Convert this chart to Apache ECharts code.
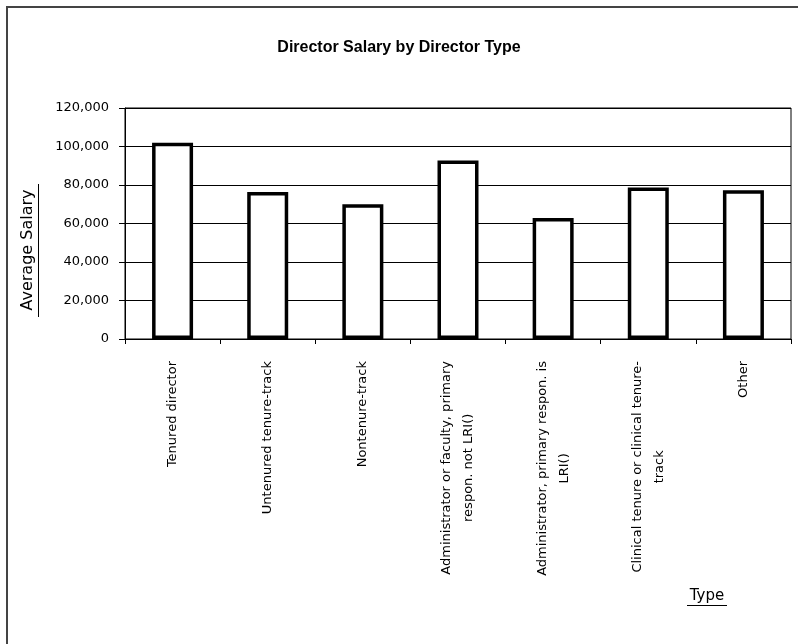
<!DOCTYPE html>
<html>
<head>
<meta charset="utf-8">
<title>Director Salary by Director Type</title>
<script src="https://cdn.jsdelivr.net/npm/echarts@6/dist/echarts.min.js"></script>
<style>
  html, body { margin: 0; padding: 0; background: #fff; }
  #chart { width: 798px; height: 644px; }
</style>
</head>
<body>
<div id="chart"></div>
<script>
// categories (line breaks as in the original labels)
var types = [
  'Tenured director',
  'Untenured tenure-track',
  'Nontenure-track',
  'Administrator or faculty, primary\nrespon. not LRI()',
  'Administrator, primary respon. is\nLRI()',
  'Clinical tenure or clinical tenure-\ntrack',
  'Other'
]
// average salary per type
var salary = [102000, 76300, 70000, 92700, 62800, 78700, 77300]
// y tick values
var yTicks = [0, 20000, 40000, 60000, 80000, 100000, 120000]

var ele = document.getElementById('chart')
var myChart = echarts.init(ele)

function fmt (v) {
  return String(v).replace(/\B(?=(\d{3})+(?!\d))/g, ',')
}

var option = {
  backgroundColor: '#fff',
  animation: false,
  title: {
    text: 'Director Salary by Director Type',
    left: 'center',
    top: 35,
    textStyle: {
      fontFamily: 'Liberation Sans',
      fontSize: 16,
      fontWeight: 'bold',
      color: '#000'
    }
  },
  grid: {
    left: 125,
    right: 7,
    top: 108,
    bottom: 305,
    show: true,
    borderColor: '#000',
    borderWidth: 1,
    containLabel: false
  },
  xAxis: {
    type: 'category',
    data: types,
    axisLine: { lineStyle: { color: '#000', width: 1 } },
    axisTick: { show: true, length: 5, lineStyle: { color: '#000' } },
    axisLabel: {
      rotate: 90,
      margin: 22,
      interval: 0,
      color: '#000',
      fontFamily: 'DejaVu Sans',
      fontSize: 13,
      lineHeight: 22,
      formatter: function (v) {
        return v.split('\n').map(function (l) { return '{c|' + l + '}' }).join('\n')
      },
      rich: {
        c: {
          align: 'center',
          fontFamily: 'DejaVu Sans',
          fontSize: 13,
          lineHeight: 22,
          color: '#000'
        }
      }
    },
    splitLine: { show: false }
  },
  yAxis: {
    type: 'value',
    min: yTicks[0],
    max: yTicks[yTicks.length - 1],
    interval: yTicks[1] - yTicks[0],
    axisLine: { show: true, lineStyle: { color: '#000', width: 1 } },
    axisTick: { show: true, length: 6, lineStyle: { color: '#000' } },
    axisLabel: {
      margin: 16,
      color: '#000',
      fontFamily: 'DejaVu Sans',
      fontSize: 13,
      formatter: function (v) { return fmt(v) }
    },
    splitLine: { show: true, lineStyle: { color: '#000', width: 1 } }
  },
  series: [{
    type: 'bar',
    data: salary,
    barWidth: 41,
    itemStyle: {
      color: '#fff',
      borderColor: '#000',
      borderWidth: 3.5
    }
  }],
  graphic: [
    // outer chart frame
    {
      type: 'rect',
      shape: { x: 7, y: 7, width: 820, height: 660 },
      style: { fill: null, stroke: '#444', lineWidth: 2 },
      silent: true
    },
    // y axis title
    {
      type: 'text',
      x: 28,
      y: 250,
      rotation: Math.PI / 2,
      style: {
        text: 'Average Salary',
        fontFamily: 'DejaVu Sans',
        fontSize: 16,
        fill: '#000',
        align: 'center',
        verticalAlign: 'middle'
      }
    },
    {
      type: 'line',
      shape: { x1: 38.5, y1: 184, x2: 38.5, y2: 317 },
      style: { stroke: '#000', lineWidth: 1 }
    },
    // x axis title
    {
      type: 'text',
      x: 707,
      y: 596,
      style: {
        text: 'Type',
        fontFamily: 'DejaVu Sans',
        fontSize: 15,
        fill: '#000',
        align: 'center',
        verticalAlign: 'middle'
      }
    },
    {
      type: 'line',
      shape: { x1: 687, y1: 605.5, x2: 727, y2: 605.5 },
      style: { stroke: '#000', lineWidth: 1 }
    }
  ]
}
myChart.setOption(option)
</script>
</body>
</html>
